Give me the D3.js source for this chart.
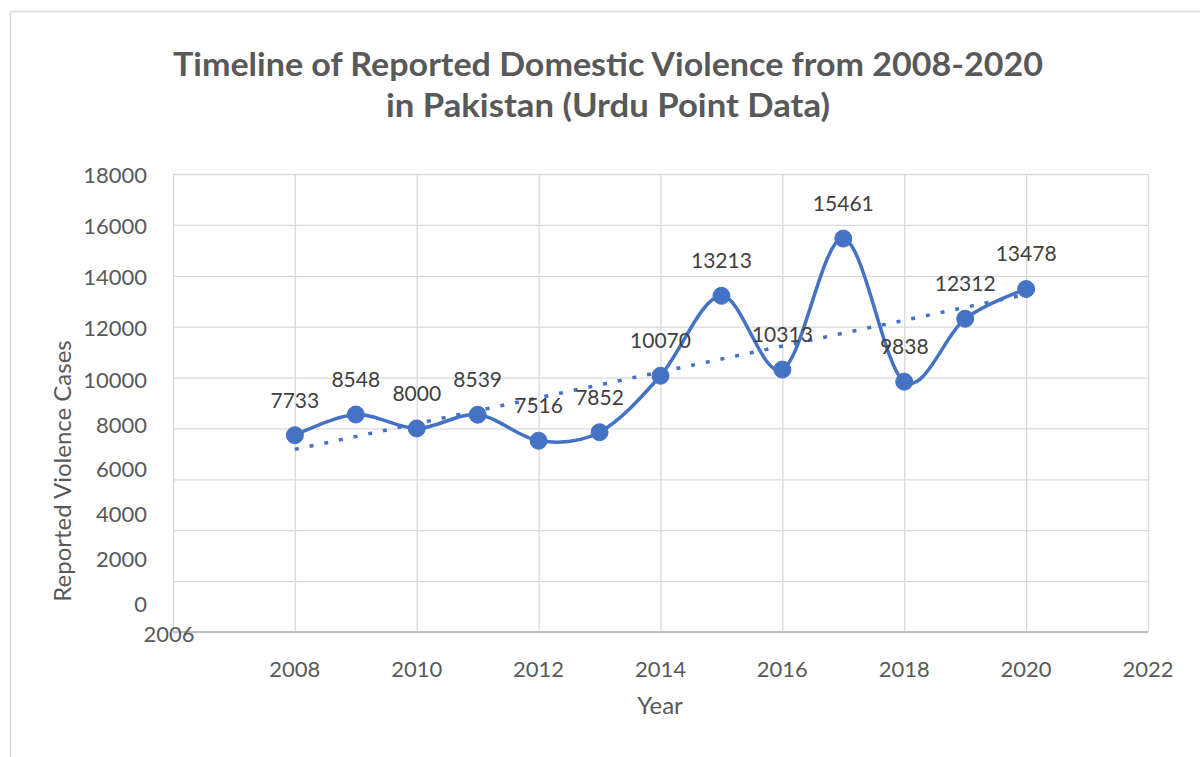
<!DOCTYPE html>
<html>
<head>
<meta charset="utf-8">
<script src="https://cdn.jsdelivr.net/npm/d3@7"></script>
<style>
  body { margin: 0; background: #fff; }
  text { font-family: Lato, "Open Sans", sans-serif; fill: #595959; }
</style>
</head>
<body>
<script>
// data
var years = [2008, 2009, 2010, 2011, 2012, 2013, 2014, 2015, 2016, 2017, 2018, 2019, 2020];
var cases = [7733, 8548, 8000, 8539, 7516, 7852, 10070, 13213, 10313, 15461, 9838, 12312, 13478];
var xTicks = [2006, 2008, 2010, 2012, 2014, 2016, 2018, 2020, 2022];
var yTicks = [0, 2000, 4000, 6000, 8000, 10000, 12000, 14000, 16000, 18000];
var titleLines = ["Timeline of Reported Domestic Violence from 2008-2020", "in Pakistan (Urdu Point Data)"];

var W = 1200, H = 757;
var blue = "#4472C4";

var svg = d3.select("body").append("svg")
    .attr("width", W)
    .attr("height", H);

// chart border
svg.append("rect")
    .attr("x", 10.5).attr("y", 11.5)
    .attr("width", 1200).attr("height", 800)
    .attr("fill", "none")
    .attr("stroke", "#d9d9d9")
    .attr("stroke-width", 1.5);

var x = d3.scaleLinear().domain([2006, 2022]).range([173, 1148]);
var y = d3.scaleLinear().domain([0, 18000]).range([632, 174]);
// the y labels in the original sit squeezed toward the bottom
var yLab = d3.scaleLinear().domain([0, 10000, 18000]).range([604, 380, 175]);

// grid
svg.append("g")
    .attr("class", "grid")
    .attr("transform", "translate(0,632)")
    .call(d3.axisBottom(x).tickValues(xTicks).tickSize(-458).tickFormat(""))
    .call(function(g) { g.select(".domain").remove(); })
    .selectAll("line").attr("stroke", "#d9d9d9").attr("stroke-width", 1.3);
svg.append("g")
    .attr("class", "grid")
    .attr("transform", "translate(173,0)")
    .call(d3.axisLeft(y).tickValues(yTicks).tickSize(-975).tickFormat(""))
    .call(function(g) { g.select(".domain").remove(); })
    .selectAll("line").attr("stroke", "#d9d9d9").attr("stroke-width", 1.3);

// base axis line
svg.append("line")
    .attr("x1", x(2006)).attr("x2", x(2022))
    .attr("y1", y(0)).attr("y2", y(0))
    .attr("stroke", "#bfbfbf").attr("stroke-width", 2);

// y tick labels
svg.append("g").selectAll("text")
    .data(yTicks)
  .enter().append("text")
    .attr("x", 147)
    .attr("y", function(d) { return yLab(d); })
    .attr("dy", "0.35em")
    .attr("text-anchor", "end")
    .style("font-size", "22px")
    .text(function(d) { return d; });

// x tick labels
svg.append("g").selectAll("text")
    .data(xTicks)
  .enter().append("text")
    .attr("x", function(d, i) { return i == 0 ? x(d) - 4 : x(d); })
    .attr("y", function(d, i) { return i == 0 ? 634 : 669; })
    .attr("dy", "0.35em")
    .attr("text-anchor", "middle")
    .style("font-size", "22px")
    .text(function(d) { return d; });

// axis titles
svg.append("text")
    .attr("transform", "translate(63,471) rotate(-90)")
    .attr("dy", "0.35em")
    .attr("text-anchor", "middle")
    .style("font-size", "24px")
    .text("Reported Violence Cases");
svg.append("text")
    .attr("x", 660).attr("y", 706)
    .attr("dy", "0.35em")
    .attr("text-anchor", "middle")
    .style("font-size", "24px")
    .text("Year");

// title
svg.append("g").selectAll("text")
    .data(titleLines)
  .enter().append("text")
    .attr("x", 608)
    .attr("y", function(d, i) { return 76 + i * 41; })
    .attr("text-anchor", "middle")
    .attr("textLength", function(d, i) { return i == 0 ? 870 : 444; })
    .attr("lengthAdjust", "spacingAndGlyphs")
    .style("font-size", "33px")
    .style("font-weight", "bold")
    .text(function(d) { return d; });

var pts = years.map(function(d, i) { return [d, cases[i]]; });

// linear trendline
var mx = d3.mean(years), my = d3.mean(cases);
var sxy = d3.sum(pts, function(p) { return (p[0] - mx) * (p[1] - my); });
var sxx = d3.sum(years, function(v) { return (v - mx) * (v - mx); });
var slope = sxy / sxx, icpt = my - slope * mx;
svg.append("line")
    .attr("x1", x(years[0])).attr("y1", y(icpt + slope * years[0]))
    .attr("x2", x(years[years.length - 1])).attr("y2", y(icpt + slope * years[years.length - 1]))
    .attr("stroke", blue)
    .attr("stroke-width", 3.5)
    .attr("stroke-dasharray", "4,11");

// smoothed series line
var line = d3.line()
    .x(function(p) { return x(p[0]); })
    .y(function(p) { return y(p[1]); })
    .curve(d3.curveCardinal.tension(0));
svg.append("path")
    .datum(pts)
    .attr("d", line)
    .attr("fill", "none")
    .attr("stroke", blue)
    .attr("stroke-width", 3.5);

svg.append("g").selectAll("circle")
    .data(pts)
  .enter().append("circle")
    .attr("cx", function(p) { return x(p[0]); })
    .attr("cy", function(p) { return y(p[1]); })
    .attr("r", 8.5)
    .attr("fill", blue)
    .attr("stroke", blue);

// data labels
svg.append("g").selectAll("text")
    .data(pts)
  .enter().append("text")
    .attr("x", function(p) { return x(p[0]); })
    .attr("y", function(p) { return y(p[1]) - 35; })
    .attr("dy", "0.35em")
    .attr("text-anchor", "middle")
    .style("font-size", "21px")
    .style("fill", "#404040")
    .text(function(p) { return p[1]; });
</script>
</body>
</html>
